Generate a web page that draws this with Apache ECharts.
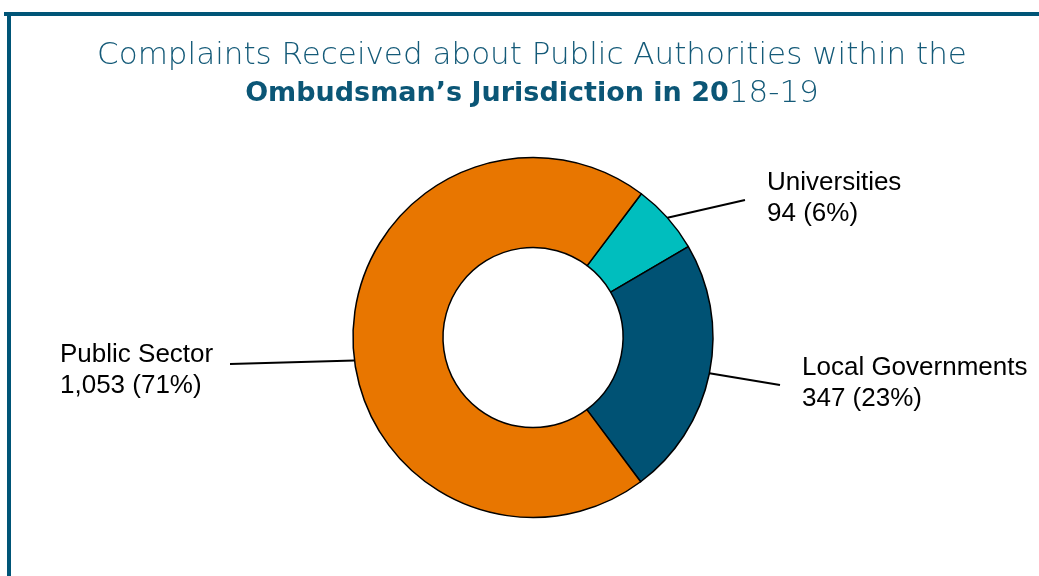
<!DOCTYPE html>
<html>
<head>
<meta charset="utf-8">
<script src="https://cdn.jsdelivr.net/npm/echarts@6/dist/echarts.min.js"></script>
<style>
  html, body { margin: 0; padding: 0; background: #fff; }
  #main { width: 1039px; height: 576px; }
</style>
</head>
<body>
<div id="main"></div>
<script>
// data
var categories = ['Universities', 'Local Governments', 'Public Sector'];
var counts = [94, 347, 1053];
var pctLabels = [6, 23, 71];
var colors = ['#00BEBE', '#005274', '#E87600'];

// where the labels sit (Excel style, placed by hand)
var labelSpots = [
    {x: 767, y: 198, end: [745, 200]},
    {x: 802, y: 383, end: [780, 385]},
    {x: 60, y: 370, end: [230, 364]}
];
var leaderTurn = [0, 0, 7.5];

var cx = 533, cy = 337.5, rIn = 90, rOut = 180, startAngle = 53;

var total = counts.reduce(function (a, b) { return a + b; }, 0);
var midAngles = [];
var acc = 0;
for (var i = 0; i < counts.length; i++) {
    var span = counts[i] / total * 360;
    midAngles.push(startAngle - acc - span / 2);
    acc += span;
}

var myChart = echarts.init(document.getElementById('main'));

var option = {
    backgroundColor: '#fff',
    animation: false,
    title: {
        left: 527,
        top: 32,
        textAlign: 'center',
        text: '{a|Complaints Received about Public Authorities within the}\n{b|Ombudsman\u2019s Jurisdiction in 20}{a|18-19}',
        textStyle: {
            rich: {
                a: {fontFamily: 'DejaVu Sans', fontWeight: 200, fontSize: 31, color: '#145A78', lineHeight: 38},
                b: {fontFamily: 'DejaVu Sans', fontWeight: 700, fontSize: 27, color: '#0B5676', lineHeight: 38}
            }
        }
    },
    graphic: [
        {type: 'rect', shape: {x: 4, y: 12, width: 1040, height: 4}, style: {fill: '#005577'}},
        {type: 'rect', shape: {x: 7, y: 12, width: 4, height: 570}, style: {fill: '#005577'}}
    ],
    series: [
        {
            type: 'pie',
            center: [cx, cy],
            radius: [rIn, rOut],
            startAngle: startAngle,
            clockwise: true,
            avoidLabelOverlap: false,
            itemStyle: {borderColor: '#000', borderWidth: 1.5},
            emphasis: {disabled: true},
            label: {
                show: true,
                position: 'outside',
                fontFamily: 'Liberation Sans, Arial',
                fontSize: 26,
                lineHeight: 31,
                color: '#000',
                formatter: function (p) {
                    return p.name + '\n' + p.value.toLocaleString('en-US') + ' (' + pctLabels[p.dataIndex] + '%)';
                }
            },
            labelLine: {
                show: true,
                lineStyle: {color: '#000', width: 2}
            },
            labelLayout: function (p) {
                var i = p.dataIndex;
                var s = labelSpots[i];
                var a = (midAngles[i] + leaderTurn[i]) * Math.PI / 180;
                var start = [cx + rOut * Math.cos(a), cy - rOut * Math.sin(a)];
                return {
                    x: s.x,
                    y: s.y,
                    align: 'left',
                    verticalAlign: 'middle',
                    labelLinePoints: [start, s.end, s.end]
                };
            },
            data: categories.map(function (name, i) {
                return {name: name, value: counts[i], itemStyle: {color: colors[i]}};
            })
        }
    ]
};
myChart.setOption(option);
window.onresize = myChart.resize;
</script>
</body>
</html>
